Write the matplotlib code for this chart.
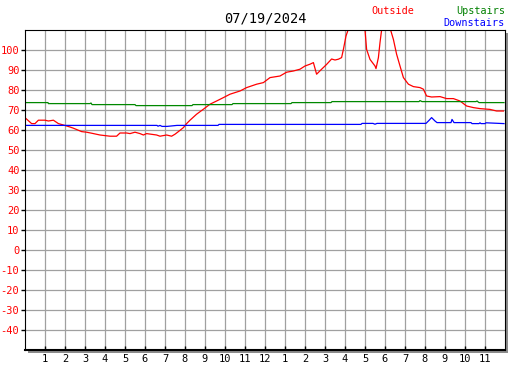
import matplotlib
matplotlib.use("Agg")
import matplotlib.pyplot as plt
from matplotlib.patches import Rectangle

# hours since midnight, temperature (F)
outside_h = [0.03, 0.33, 0.5, 0.67, 1.0, 1.17, 1.42, 1.67, 1.92, 2.25, 2.42, 2.83, 3.08, 3.33,
             3.75, 4.25, 4.58, 4.75, 5.08, 5.25, 5.5, 5.75, 5.92, 6.08, 6.58, 6.75, 7.08, 7.33,
             7.5, 7.67, 7.92, 8.08, 8.25, 8.58, 8.92, 9.25, 9.58, 9.92, 10.25, 10.75, 11.08,
             11.58, 11.92, 12.25, 12.75, 13.08, 13.42, 13.75, 14.0, 14.25, 14.42, 14.58, 14.83,
             15.08, 15.33, 15.5, 15.67, 15.83, 15.92, 16.05, 16.17, 16.35, 16.85, 17.0, 17.08,
             17.25, 17.5, 17.55, 17.67, 17.75, 17.83, 17.95, 18.2, 18.28, 18.42, 18.58, 18.75,
             18.92, 19.17, 19.42, 19.75, 19.92, 20.08, 20.33, 20.75, 21.08, 21.42, 21.75, 22.08,
             22.42, 22.75, 23.25, 23.58, 23.92]
outside_t = [65.9, 63.2, 63.2, 64.9, 64.9, 64.5, 64.9, 63.2, 62.5, 61.5, 60.9, 59.2, 58.9, 58.4,
             57.5, 56.9, 56.9, 58.5, 58.5, 58.2, 58.9, 58.2, 57.5, 58.2, 57.5, 56.9, 57.5, 56.9,
             57.9, 59.2, 61.2, 63.2, 64.9, 67.9, 70.4, 72.9, 74.5, 76.2, 77.9, 79.5, 81.2,
             82.9, 83.7, 86.2, 87.0, 88.9, 89.5, 90.4, 92.0, 92.9, 93.7, 87.9, 90.4,
             92.8, 95.5, 95.0, 95.4, 96.2, 100.3, 107.0, 110.5, 118.0, 118.0, 110.0, 100.3,
             95.3, 92.0, 90.7, 96.2, 103.7, 110.0, 118.0, 118.0, 110.0, 105.3, 97.9, 92.0,
             86.2, 82.9, 81.7, 81.2, 80.4, 77.0, 76.5, 76.7, 75.7, 75.7, 74.5, 72.0,
             71.2, 70.7, 70.3, 69.5, 69.5]

upstairs_h = [0.0, 1.15, 1.17, 3.25, 3.3, 3.35, 5.5, 5.55, 8.35, 8.4, 10.35, 10.4, 13.3, 13.35,
              15.3, 15.35, 19.7, 19.75, 19.85, 22.55, 22.6, 22.7, 23.95]
upstairs_t = [73.7, 73.7, 73.2, 73.2, 73.5, 72.7, 72.7, 72.2, 72.2, 72.7, 72.7, 73.2, 73.2, 73.7,
              73.7, 74.2, 74.2, 74.7, 74.2, 74.2, 74.5, 73.7, 73.7]

downstairs_h = [0.0, 6.6, 6.65, 6.75, 6.85, 7.1, 7.6, 9.65, 9.7, 16.8, 16.85, 17.4, 17.5, 17.6,
                20.05, 20.2, 20.33, 20.5, 20.6, 21.3, 21.35, 21.45, 22.3, 22.35, 22.7, 22.75,
                22.8, 23.0, 23.05, 23.95]
downstairs_t = [62.3, 62.3, 61.9, 62.3, 61.8, 61.8, 62.3, 62.3, 62.8, 62.8, 63.3, 63.3, 62.9, 63.3,
                63.3, 64.8, 66.2, 64.5, 63.7, 63.7, 65.3, 63.7, 63.7, 63.2, 63.2, 63.6,
                63.2, 63.2, 63.6, 63.2]

hour_labels = ['1', '2', '3', '4', '5', '6', '7', '8', '9', '10', '11', '12',
               '1', '2', '3', '4', '5', '6', '7', '8', '9', '10', '11']
y_ticks = [100, 90, 80, 70, 60, 50, 40, 30, 20, 10, 0, -10, -20, -30, -40]

W, H = 527, 370
fig = plt.figure(figsize=(W / 100, H / 100), dpi=100)
fig.patch.set_facecolor('white')
rect = [25 / W, (H - 350) / H, 480 / W, 320 / H]

# drop shadow of the plot frame
fig.patches.append(Rectangle((rect[0] + 3 / W, rect[1] - 3 / H), rect[2], rect[3],
                             transform=fig.transFigure, facecolor='#8c8c8c',
                             edgecolor='none', zorder=0))
ax = fig.add_axes(rect)
ax.set_zorder(1)
ax.set_facecolor('white')

ax.set_xlim(0, 24)
ax.set_ylim(-50, 110)
ax.set_xticks(range(1, 24))
ax.set_xticklabels(hour_labels)
ax.set_yticks(y_ticks)
ax.set_yticklabels([str(v) for v in y_ticks])
ax.grid(True, color='#a0a0a0', linewidth=0.9)
ax.set_axisbelow(True)

mono = 'DejaVu Sans Mono'
ax.tick_params(axis='x', direction='in', length=3, width=1, color='black',
               labelsize=7.5, pad=3, labelcolor='black')
ax.tick_params(axis='y', direction='out', length=3, width=1, color='black',
               labelsize=7.5, pad=1, labelcolor='red')
for lab in ax.get_xticklabels() + ax.get_yticklabels():
    lab.set_family(mono)
for s in ax.spines.values():
    s.set_linewidth(0.8)
    s.set_color('black')
ax.spines['bottom'].set_linewidth(1.5)

ax.plot(outside_h, outside_t, color='red', linewidth=0.9)
ax.plot(upstairs_h, upstairs_t, color='#008800', linewidth=0.9)
ax.plot(downstairs_h, downstairs_t, color='blue', linewidth=0.9)

fig.text(265 / W, 1 - 19 / H, '07/19/2024', ha='center', va='center',
         fontsize=9.8, family=mono, color='black')
fig.text(393 / W, 1 - 11 / H, 'Outside', ha='center', va='center',
         fontsize=7.3, family=mono, color='red')
fig.text(505 / W, 1 - 11 / H, 'Upstairs', ha='right', va='center',
         fontsize=7.3, family=mono, color='green')
fig.text(505 / W, 1 - 23 / H, 'Downstairs', ha='right', va='center',
         fontsize=7.3, family=mono, color='blue')

fig.savefig('out.png', dpi=100)
